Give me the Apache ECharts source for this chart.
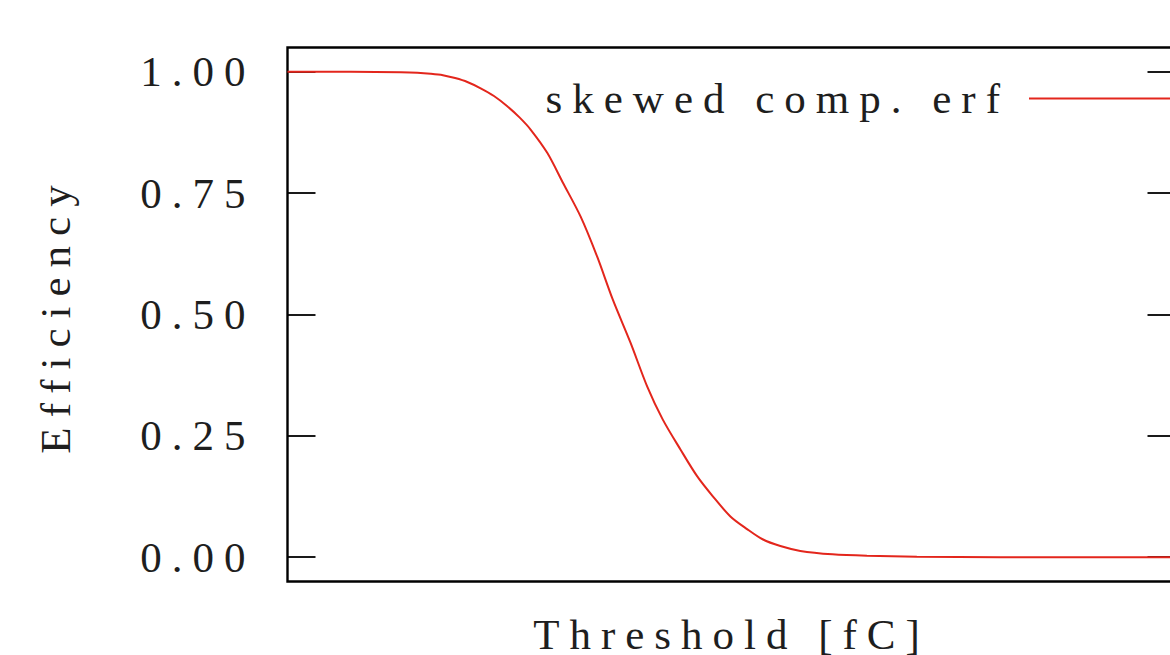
<!DOCTYPE html>
<html>
<head>
<meta charset="utf-8">
<script src="https://cdn.jsdelivr.net/npm/echarts@6/dist/echarts.min.js"></script>
<style>
  html, body { margin: 0; padding: 0; background: #fff; overflow: hidden; }
  #chart { width: 1170px; height: 655px; }
  /* wide tracking of the serif typeface */
  #chart text { letter-spacing: 10px; }
</style>
</head>
<body>
<div id="chart"></div>
<script>
// Threshold scan: efficiency of a skewed complementary error function
const thresholdFC = [0.00, 0.57, 1.02, 1.17, 1.29, 1.40, 1.51, 1.62, 1.74, 1.86, 1.98, 2.09, 2.19, 2.34, 2.48, 2.64, 2.79, 2.93, 3.09, 3.24, 3.38, 3.54, 3.69, 3.83, 3.99, 4.14, 4.28, 4.44, 4.62, 4.91, 5.22, 5.67, 6.42, 8.00];
const efficiency  = [1.000, 1.000, 0.999, 0.998, 0.996, 0.993, 0.987, 0.979, 0.966, 0.950, 0.929, 0.906, 0.881, 0.833, 0.772, 0.702, 0.619, 0.531, 0.442, 0.352, 0.284, 0.222, 0.167, 0.126, 0.084, 0.058, 0.037, 0.023, 0.013, 0.006, 0.003, 0.001, 0.000, 0.000];
const yTicks = [0, 0.25, 0.5, 0.75, 1.0];
const seriesName = 'skewed comp. erf';

const FONT = 'Liberation Serif';
const FONT_SIZE = 43;
const TEXT = '#1e1e1e';
const RED = '#e3261c';

const chart = echarts.init(document.getElementById('chart'), null, { renderer: 'svg' });

const tickAxis = (pos, withLabels) => ({
  type: 'value',
  position: pos,
  min: -0.05,
  max: 1.05,
  axisLine: { show: false },
  splitLine: { show: false },
  axisTick: { show: true, inside: true, length: 28, customValues: yTicks, lineStyle: { color: '#000', width: 1.8 } },
  axisLabel: withLabels ? {
    show: true, customValues: yTicks, margin: 32,
    fontFamily: FONT, fontSize: FONT_SIZE, color: TEXT,
    formatter: v => v.toFixed(2)
  } : { show: false }
});

chart.setOption({
  animation: false,
  backgroundColor: '#fff',
  grid: {
    left: 287.5, top: 47.5, width: 888, height: 534,
    outerBoundsMode: 'none',
    containLabel: false,
    show: true, borderColor: '#000', borderWidth: 2.4, backgroundColor: 'transparent'
  },
  legend: {
    right: -5, top: 72,
    itemWidth: 141, itemHeight: 2,
    icon: 'rect',
    align: 'right',
    data: [seriesName],
    textStyle: { fontFamily: FONT, fontSize: FONT_SIZE, color: TEXT, padding: [0, 14, 0, 0] }
  },
  xAxis: {
    type: 'value', min: 0, max: 8,
    name: 'Threshold [fC]', nameLocation: 'middle', nameGap: 31,
    nameTextStyle: { fontFamily: FONT, fontSize: FONT_SIZE, color: TEXT },
    axisLine: { show: false }, axisTick: { show: false },
    axisLabel: { show: false }, splitLine: { show: false }
  },
  yAxis: [
    Object.assign(tickAxis('left', true), {
      name: 'Efficiency', nameLocation: 'middle', nameGap: 211, nameRotate: 90,
      nameTextStyle: { fontFamily: FONT, fontSize: FONT_SIZE, color: TEXT }
    }),
    tickAxis('right', false)
  ],
  series: [{
    name: seriesName,
    type: 'line',
    smooth: 0.3,
    showSymbol: false,
    symbol: 'none',
    data: thresholdFC.map((x, i) => [x, efficiency[i]]),
    lineStyle: { color: RED, width: 2 },
    itemStyle: { color: RED }
  }]
});
</script>
</body>
</html>
